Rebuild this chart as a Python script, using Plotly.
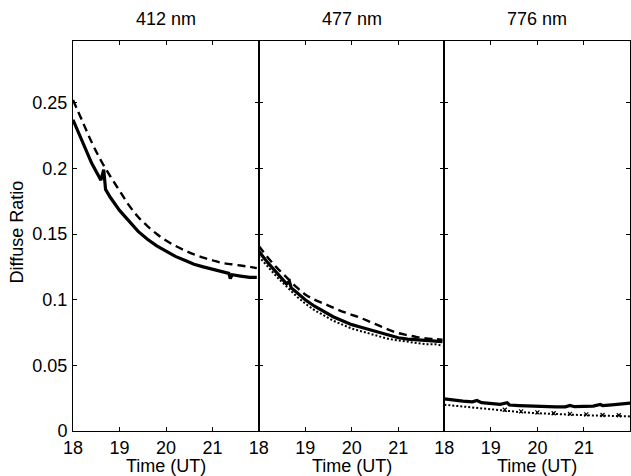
import plotly.graph_objects as go

panel_titles = ["412 nm", "477 nm", "776 nm"]
x_tickvals = [18, 19, 20, 21]
y_tickvals = [0, 0.05, 0.1, 0.15, 0.2, 0.25]
y_ticktext = ["0", "0.05", "0.1", "0.15", "0.2", "0.25"]

# 412 nm
t412_meas = [18.0, 18.2, 18.4, 18.6, 18.66, 18.7, 18.8, 19.0, 19.2, 19.4, 19.6, 19.8, 20.0, 20.2,
             20.4, 20.6, 20.8, 21.0, 21.2, 21.35, 21.38, 21.42, 21.6, 21.8, 21.95]
v412_meas = [0.237, 0.220, 0.204, 0.191, 0.199, 0.184, 0.178, 0.168, 0.160, 0.152, 0.146, 0.141, 0.137, 0.133,
             0.130, 0.127, 0.125, 0.123, 0.121, 0.120, 0.116, 0.119, 0.118, 0.117, 0.117]
t412_dash = [18.0, 18.2, 18.4, 18.6, 18.8, 19.0, 19.2, 19.4, 19.6, 19.8, 20.0, 20.2, 20.4, 20.6,
             20.8, 21.0, 21.2, 21.4, 21.6, 21.8, 21.95]
v412_dash = [0.252, 0.236, 0.220, 0.206, 0.194, 0.183, 0.172, 0.163, 0.156, 0.150, 0.145, 0.141, 0.1375, 0.1345,
             0.132, 0.130, 0.128, 0.127, 0.126, 0.125, 0.124]

# 477 nm
t477_meas = [18.0, 18.2, 18.4, 18.6, 18.66, 18.7, 18.8, 19.0, 19.2, 19.4, 19.6, 19.8, 20.0, 20.2,
             20.4, 20.6, 20.8, 21.0, 21.2, 21.4, 21.6, 21.8, 21.95]
v477_meas = [0.137, 0.128, 0.120, 0.112, 0.114, 0.109, 0.106, 0.100, 0.095, 0.091, 0.087, 0.084, 0.081, 0.079,
             0.077, 0.075, 0.0725, 0.071, 0.070, 0.0695, 0.069, 0.068, 0.068]
t477_dash = [18.0, 18.2, 18.4, 18.6, 18.8, 19.0, 19.2, 19.4, 19.6, 19.8, 20.0, 20.2, 20.4, 20.6,
             20.8, 21.0, 21.2, 21.4, 21.6, 21.8, 21.95]
v477_dash = [0.141, 0.132, 0.124, 0.117, 0.110, 0.104, 0.100, 0.097, 0.094, 0.091, 0.0885, 0.086, 0.083, 0.080,
             0.077, 0.0746, 0.073, 0.0715, 0.0705, 0.070, 0.0695]
t477_dot = t477_dash
v477_dot = [0.133, 0.125, 0.117, 0.110, 0.103, 0.097, 0.092, 0.088, 0.084, 0.081, 0.078, 0.076, 0.074, 0.072,
            0.070, 0.069, 0.068, 0.067, 0.066, 0.066, 0.065]

# 776 nm
t776_meas = [18.0, 18.2, 18.4, 18.6, 18.7, 18.8, 19.0, 19.2, 19.35, 19.4, 19.6, 19.8, 20.0, 20.2,
             20.4, 20.6, 20.7, 20.8, 21.0, 21.2, 21.35, 21.4, 21.6, 21.8, 22.0]
v776_meas = [0.0245, 0.0235, 0.0228, 0.0222, 0.0232, 0.0216, 0.0210, 0.0203, 0.0215, 0.0198, 0.0194, 0.0190,
             0.0187, 0.0185, 0.0184, 0.0184, 0.0195, 0.0185, 0.0187, 0.0190, 0.0202, 0.0194, 0.0199, 0.0205, 0.0212]
t776_dot = [18.0, 18.4, 18.8, 19.2, 19.6, 20.0, 20.4, 20.8, 21.2, 21.6, 22.0]
v776_dot = [0.0200, 0.0185, 0.0170, 0.0155, 0.0145, 0.0135, 0.0128, 0.0123, 0.0118, 0.0115, 0.0111]
t776_x = [19.3, 19.65, 20.0, 20.35, 20.7, 21.05, 21.4, 21.75]
v776_x = [0.0162, 0.0150, 0.0142, 0.0135, 0.0130, 0.0126, 0.0122, 0.0120]

FONT = "Liberation Sans, Arial, Helvetica, sans-serif"
fig = go.Figure()

def solid(t, v, ax):
    fig.add_trace(go.Scatter(x=t, y=v, mode="lines", xaxis="x" + ax, yaxis="y" + ax,
                             line=dict(color="black", width=3.2), showlegend=False))

def dashed(t, v, ax):
    fig.add_trace(go.Scatter(x=t, y=v, mode="lines", xaxis="x" + ax, yaxis="y" + ax,
                             line=dict(color="black", width=2.4, dash="8px,5px", shape="spline"),
                             showlegend=False))

def dotted(t, v, ax):
    fig.add_trace(go.Scatter(x=t, y=v, mode="lines", xaxis="x" + ax, yaxis="y" + ax,
                             line=dict(color="black", width=2, dash="2px,2px"), showlegend=False))

dashed(t412_dash, v412_dash, "")
solid(t412_meas, v412_meas, "")

dotted(t477_dot, v477_dot, "2")
dashed(t477_dash, v477_dash, "2")
solid(t477_meas, v477_meas, "2")

dotted(t776_dot, v776_dot, "3")
fig.add_trace(go.Scatter(x=t776_x, y=v776_x, mode="markers", xaxis="x3", yaxis="y3",
                         marker=dict(symbol="x-thin", size=4, line=dict(color="black", width=1.2)),
                         showlegend=False))
solid(t776_meas, v776_meas, "3")

domains = [[0, 1/3], [1/3, 2/3], [2/3, 1]]
axkw = dict(showline=True, linecolor="black", linewidth=1, mirror="ticks", ticks="inside",
            ticklen=4, tickcolor="black", showgrid=False, zeroline=False,
            tickfont=dict(family=FONT, size=18, color="black"))
layout = {}
for i, dom in enumerate(domains):
    sfx = "" if i == 0 else str(i + 1)
    layout["xaxis" + sfx] = dict(domain=dom, range=[18, 21.99], tickvals=x_tickvals,
                                 anchor="y" + sfx, **axkw)
    layout["yaxis" + sfx] = dict(range=[0, 0.297], tickvals=y_tickvals, ticktext=y_ticktext,
                                 anchor="x" + sfx, showticklabels=(i == 0),
                                 ticklabelstandoff=1, **axkw)
fig.update_layout(**layout)

ann = []
for i, dom in enumerate(domains):
    cx = (dom[0] + dom[1]) / 2
    ann.append(dict(text=panel_titles[i], x=cx, y=1.056, xref="paper", yref="paper",
                    xanchor="center", yanchor="middle", showarrow=False,
                    font=dict(family=FONT, size=18, color="black")))
    ann.append(dict(text="Time (UT)", x=cx, y=-0.089, xref="paper", yref="paper",
                    xanchor="center", yanchor="middle", showarrow=False,
                    font=dict(family=FONT, size=18, color="black")))
ann.append(dict(text="Diffuse Ratio", x=-0.10, y=0.51, xref="paper", yref="paper",
                xanchor="center", yanchor="middle", textangle=-90, showarrow=False,
                font=dict(family=FONT, size=18, color="black")))

fig.update_layout(width=631, height=476, margin=dict(l=73, r=1, t=41, b=45),
                  paper_bgcolor="white", plot_bgcolor="white", annotations=ann)
fig.write_html("out.html", config={"displayModeBar": False},
               post_script="document.body.style.margin='0px';document.body.style.overflow='hidden';")
